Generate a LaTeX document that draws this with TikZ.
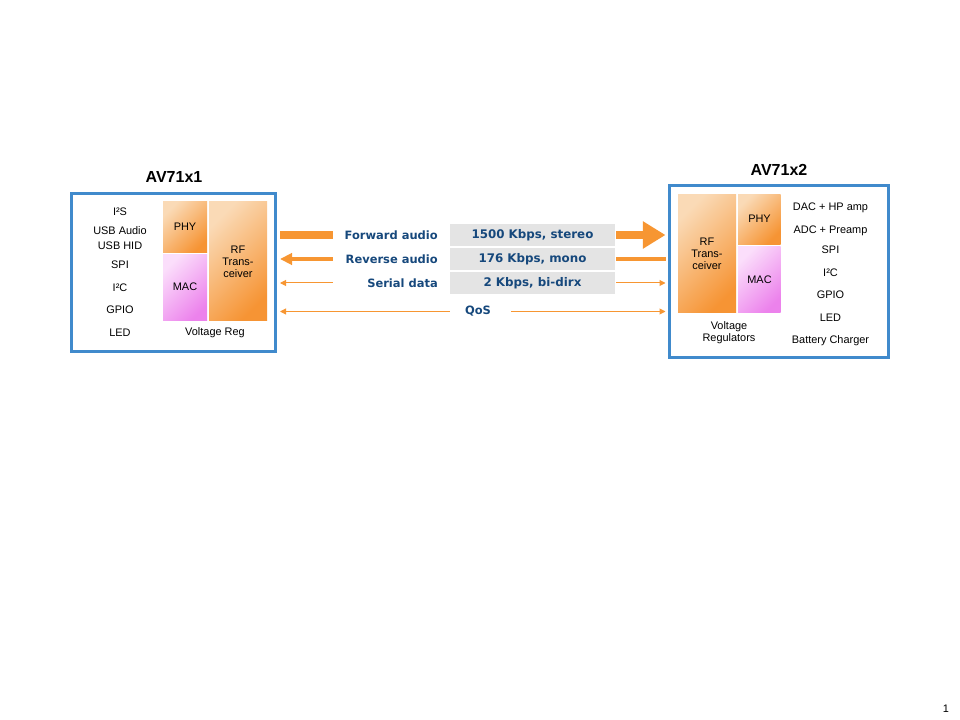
\documentclass[tikz,border=0pt]{standalone}
\usepackage{fontspec}
\setmainfont{Liberation Sans}
\newfontfamily\ratefont{DejaVu Sans}
\usetikzlibrary{arrows.meta}
\definecolor{chipblue}{RGB}{64,138,204}
\definecolor{linkorange}{RGB}{247,150,50}
\definecolor{peach}{RGB}{250,218,182}
\definecolor{deeporange}{RGB}{246,148,52}
\definecolor{lightpink}{RGB}{251,222,251}
\definecolor{deeppink}{RGB}{236,130,236}
\definecolor{ratebg}{RGB}{228,228,228}
\definecolor{ratetext}{RGB}{22,72,124}
\tikzset{
	chip/.style = {draw = chipblue, line width = 2.25pt, fill = white},
	rfblock/.style = {top color = peach, bottom color = deeporange, shading angle = 45},
	macblock/.style = {top color = lightpink, bottom color = deeppink, shading angle = 45},
	pin/.style = {font = \fontsize{8.2}{9}\selectfont, align = center, inner sep = 0pt},
	chipname/.style = {font = \fontsize{12}{14}\selectfont\bfseries, inner sep = 0pt},
	linkname/.style = {font = \ratefont\bfseries\fontsize{8.6}{10}\selectfont, text = ratetext, inner sep = 0pt},
	ratebox/.style = {fill = ratebg, minimum width = 123.75pt, minimum height = 16.5pt, inner sep = 0pt,
		font = \ratefont\bfseries\fontsize{8.9}{10}\selectfont, text = ratetext},
	thinlink/.style = {linkorange, line width = 0.75pt}
}
\begin{document}
\begin{tikzpicture}[x = 0.75pt, y = -0.75pt]
	\useasboundingbox (0, 0) rectangle (960, 720);
	% transmitter
	\draw[chip] (71.5, 193.5) rectangle (275, 351.5);
		\node[chipname] (txname) at (174, 177) {AV71x1};
	\shade[rfblock] (163, 202) rectangle (207, 253);
	\shade[macblock] (163, 255) rectangle (207, 320.7);
	\shade[rfblock] (209, 202) rectangle (267, 320.7);
		\node[pin] (txphy) at (185, 227) {PHY};
		\node[pin] (txmac) at (185, 287) {MAC};
		\node[pin] (txrf) at (238, 262) {RF\\Trans-\\ceiver};
		\node[pin] (txvreg) at (215, 333) {Voltage Reg};
	\foreach \pinname/\y [count = \i] in {I²S/212, USB Audio/231, USB HID/246, SPI/265, I²C/288, GPIO/310, LED/333}
		\node[pin] (txpin\i) at (120, \y) {\pinname};
	% receiver
	\draw[chip] (669.5, 185.5) rectangle (888.5, 357.5);
		\node[chipname] (rxname) at (779, 170) {AV71x2};
	\shade[rfblock] (678, 194.3) rectangle (736, 312.7);
	\shade[rfblock] (738, 194.3) rectangle (780.7, 244.3);
	\shade[macblock] (738, 247) rectangle (780.7, 312.7);
		\node[pin] (rxrf) at (707, 253.5) {RF\\Trans-\\ceiver};
		\node[pin] (rxphy) at (759.5, 219) {PHY};
		\node[pin] (rxmac) at (759.5, 280) {MAC};
		\node[pin] (rxvreg) at (729, 333) {Voltage\\Regulators};
	\foreach \pinname/\y [count = \i] in {DAC + HP amp/208, ADC + Preamp/231, SPI/250, I²C/273, GPIO/295, LED/318, Battery Charger/341}
		\node[pin] (rxpin\i) at (830.5, \y) {\pinname};
	% links
	\node[ratebox] (fwdrate) at (532.5, 235) {1500 Kbps, stereo};
	\node[ratebox] (revrate) at (532.5, 259) {176 Kbps, mono};
	\node[ratebox] (serrate) at (532.5, 283) {2 Kbps, bi-dirx};
		\node[linkname, anchor = east] (fwdname) at (438, 235) {Forward audio};
		\node[linkname, anchor = east] (revname) at (438, 259) {Reverse audio};
		\node[linkname, anchor = east] (sername) at (438, 283) {Serial data};
		\node[linkname] (qosname) at (478, 311.5) {QoS};
	\coordinate (txedge) at (280, 0);
	\coordinate (txgap) at (333, 0);
	\coordinate (rxgap) at (616, 0);
	\coordinate (rxedge) at (665.5, 0);
	\draw[linkorange, line width = 6.2pt] (txedge |- fwdname) -- (txgap |- fwdname);
	\draw[linkorange, line width = 6.2pt, -{Triangle[length = 17pt, width = 19.5pt]}] (rxgap |- fwdname) -- (rxedge |- fwdname);
	\draw[linkorange, line width = 3.3pt, {Triangle[length = 9pt, width = 8.5pt]}-] (txedge |- revname) -- (txgap |- revname);
	\draw[linkorange, line width = 3.3pt] (rxgap |- revname) -- (rxedge |- revname);
	\draw[thinlink, {Triangle[length = 4.5pt, width = 4.5pt]}-] (txedge |- sername) -- (txgap |- sername);
	\draw[thinlink, -{Triangle[length = 4.5pt, width = 4.5pt]}] (rxgap |- sername) -- (rxedge |- sername);
	\draw[thinlink, {Triangle[length = 4.5pt, width = 4.5pt]}-] (txedge |- qosname) -- (450, 311.5);
	\draw[thinlink, -{Triangle[length = 4.5pt, width = 4.5pt]}] (511, 311.5) -- (rxedge |- qosname);
	\node[pin] (pagenum) at (946, 709) {1};
\end{tikzpicture}
\end{document}
